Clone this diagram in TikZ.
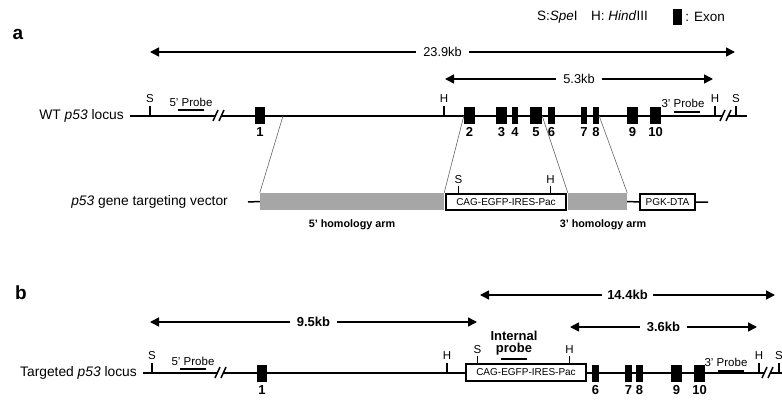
\documentclass[tikz,border=0pt]{standalone}
\usepackage{fontspec}
\setmainfont{Liberation Sans}
\usetikzlibrary{positioning,arrows.meta}

\tikzset{
  locus/.style={line width=1.9pt},
  site/.style={line width=1.5pt},
  sitelbl/.style={font=\fontsize{11.5}{11.5}\selectfont,inner sep=0pt},
  loclbl/.style={font=\fontsize{13.8}{13.8}\selectfont,inner sep=0pt},
  exon/.style={fill=black,inner sep=0pt,minimum height=17pt},
  exnum/.style={font=\fontsize{13}{13}\selectfont\bfseries,inner sep=0pt},
  probe/.style={line width=2pt},
  probelbl/.style={font=\fontsize{11.5}{11.5}\selectfont,inner sep=0pt,anchor=base},
  dim/.style={<->,>={Triangle[length=9pt,width=9pt]},line width=1.5pt},
  dimlbl/.style={fill=white,inner xsep=7pt,inner ysep=1pt,font=\fontsize{12.8}{12.8}\selectfont},
  arm/.style={fill=gray!70,inner sep=0pt,minimum height=17pt},
  armlbl/.style={font=\fontsize{10.8}{10.8}\selectfont\bfseries,inner sep=0pt},
  cassette/.style={draw,line width=1.2pt,fill=white,inner sep=0pt,minimum height=16pt,
    font=\fontsize{10}{10}\selectfont},
  zoomline/.style={gray!80!black,line width=0.6pt},
  brk/.style={line width=1.5pt},
  panel/.style={font=\fontsize{19}{19}\selectfont\bfseries,inner sep=0pt}
}

\begin{document}
\begin{tikzpicture}[x=1pt,y=-1pt]
\useasboundingbox (0,0) rectangle (782,401);
\clip (0,0) rectangle (782,401);

% key
\node[panel] (pa) at (18,34) {a};
\node[font=\fontsize{13.5}{13.5}\selectfont,inner sep=0pt,anchor=west] (key) at (537,17)
  {S:\textit{Spe}I\quad H: \textit{Hind}III};
\node[exon,minimum width=9pt,minimum height=16pt] (keyex) at (677.5,17) {};
\node[font=\fontsize{13.5}{13.5}\selectfont,inner sep=0pt,right=3pt of keyex] (keytx) {: Exon};

% a: wild type locus
\coordinate (d1L) at (150,52);
\coordinate (d1R) at (735,52);
\coordinate (d2L) at (445,79);
\coordinate (d2R) at (713,79);
\draw[dim] (d1L) -- node[dimlbl] {23.9kb} (d1R);
\draw[dim] (d2L) -- node[dimlbl] {5.3kb} (d2R);

\coordinate (wtL) at (130,116);
\coordinate (wtR) at (747,116);
\node[loclbl,left=6pt of wtL] (wtlbl) {WT \textit{p53} locus};
\draw[locus] (wtL) -- (215,116) (221,116) -- (723,116) (729,116) -- (wtR);
\draw[brk] (213,121) -- (218,110) (219,121) -- (224,110);
\draw[brk] (720,121) -- (725,110) (726,121) -- (731,110);

\foreach \n/\x/\w in {1/260/10,2/469.5/11,3/501.5/11,4/515/6,5/536/12,
                      6/551.5/7,7/584/6,8/596/6,9/632.5/11,10/655.5/11}{
  \node[exon,minimum width=\w pt] (a\n) at (\x,116) {};
  \node[exnum,below=3pt of a\n] {\n};
}

\draw[site] (150,116) -- ++(0,-10) node[sitelbl,above=3pt] {S};
\draw[site] (444,116) -- ++(0,-10) node[sitelbl,above=3pt] {H};
\draw[site] (715,116) -- ++(0,-10) node[sitelbl,above=3pt] {H};
\draw[site] (736,116) -- ++(0,-10) node[sitelbl,above=3pt] {S};

\draw[probe] (178,110) -- (204,110);
\node[probelbl] at (191,107) {5' Probe};
\draw[probe] (674,112) -- (700,112);
\node[probelbl] at (683,108) {3' Probe};

% a: targeting vector
\coordinate (vL) at (248,202);
\coordinate (vR) at (708,202);
\node[arm,minimum width=184pt] (arm5) at (352,201.5) {};
\node[cassette,minimum width=120pt] (cagA) at (506,202) {CAG-EGFP-IRES-Pac};
\node[arm,minimum width=59pt] (arm3) at (597.5,201.5) {};
\node[cassette,minimum width=55pt] (pgk) at (667.5,202) {PGK-DTA};
\node[loclbl,left=20pt of vL] (vlbl) {\textit{p53} gene targeting vector};
\draw[line width=1.5pt] (vL) -- (arm5.west) (arm3.east) -- (pgk.west) (pgk.east) -- (vR);
\draw[site] ([xshift=13pt]cagA.north west) -- ++(0,-7) node[sitelbl,above=2pt] {S};
\draw[site] ([xshift=-16pt]cagA.north east) -- ++(0,-7) node[sitelbl,above=2pt] {H};
\node[armlbl,below=9pt of arm5] {5' homology arm};
\node[armlbl,below=9pt of arm3,xshift=5.5pt] {3' homology arm};

\coordinate (z1) at (283,116);
\draw[zoomline] (z1) -- (arm5.north west);
\draw[zoomline] (a2.west) -- (arm5.north east);
\draw[zoomline] (a5.east) -- (arm3.north west);
\draw[zoomline] (a8.east) -- (arm3.north east);

% b: targeted locus
\node[panel] (pb) at (21,293) {b};
\coordinate (d3L) at (480,295);
\coordinate (d3R) at (775,295);
\coordinate (d4L) at (150,322);
\coordinate (d4R) at (477,322);
\coordinate (d5L) at (570,327);
\coordinate (d5R) at (757,327);
\draw[dim] (d3L) -- node[dimlbl,font=\fontsize{13}{13}\selectfont\bfseries,inner xsep=5pt] {14.4kb} (d3R);
\draw[dim] (d4L) -- node[dimlbl,font=\fontsize{13}{13}\selectfont\bfseries] {9.5kb} (d4R);
\draw[dim] (d5L) -- node[dimlbl,font=\fontsize{13}{13}\selectfont\bfseries] {3.6kb} (d5R);

\coordinate (tgL) at (143,373);
\coordinate (tgR) at (790,373);
\node[loclbl,left=6pt of tgL] (tglbl) {Targeted \textit{p53} locus};
\draw[locus] (tgL) -- (217,373) (223,373) -- (765,373) (771,373) -- (tgR);
\draw[brk] (215,378) -- (220,367) (221,378) -- (226,367);
\draw[brk] (762,378) -- (767,367) (768,378) -- (773,367);

\node[cassette,minimum width=120pt,minimum height=17pt] (cagB) at (526,372.5) {CAG-EGFP-IRES-Pac};
\draw[site] ([xshift=12pt]cagB.north west) -- ++(0,-7) node[sitelbl,above=2pt] {S};
\draw[site] ([xshift=-17pt]cagB.north east) -- ++(0,-7) node[sitelbl,above=2pt] {H};

\foreach \n/\x/\w in {1/262/10,6/595.5/7,7/628.5/7,8/639.5/7,9/676.5/11,10/699.5/11}{
  \node[exon,minimum width=\w pt] (b\n) at (\x,373.5) {};
  \node[exnum,below=3pt of b\n] {\n};
}

\draw[site] (152,373) -- ++(0,-10) node[sitelbl,above=3pt] {S};
\draw[site] (447,373) -- ++(0,-10) node[sitelbl,above=3pt] {H};
\draw[site] (759,373) -- ++(0,-10) node[sitelbl,above=3pt] {H};
\draw[site] (779,373) -- ++(0,-10) node[sitelbl,above=3pt] {S};

\draw[probe] (180,369) -- (206,369);
\node[probelbl] at (193,365) {5' Probe};
\draw[probe] (718,371) -- (744,371);
\node[probelbl] at (726,366) {3' Probe};
\draw[probe] (501,359) -- node[font=\fontsize{13}{12}\selectfont\bfseries,align=center,
  inner sep=0pt,above=3pt] {Internal\\probe} (527,359);
\end{tikzpicture}
\end{document}
